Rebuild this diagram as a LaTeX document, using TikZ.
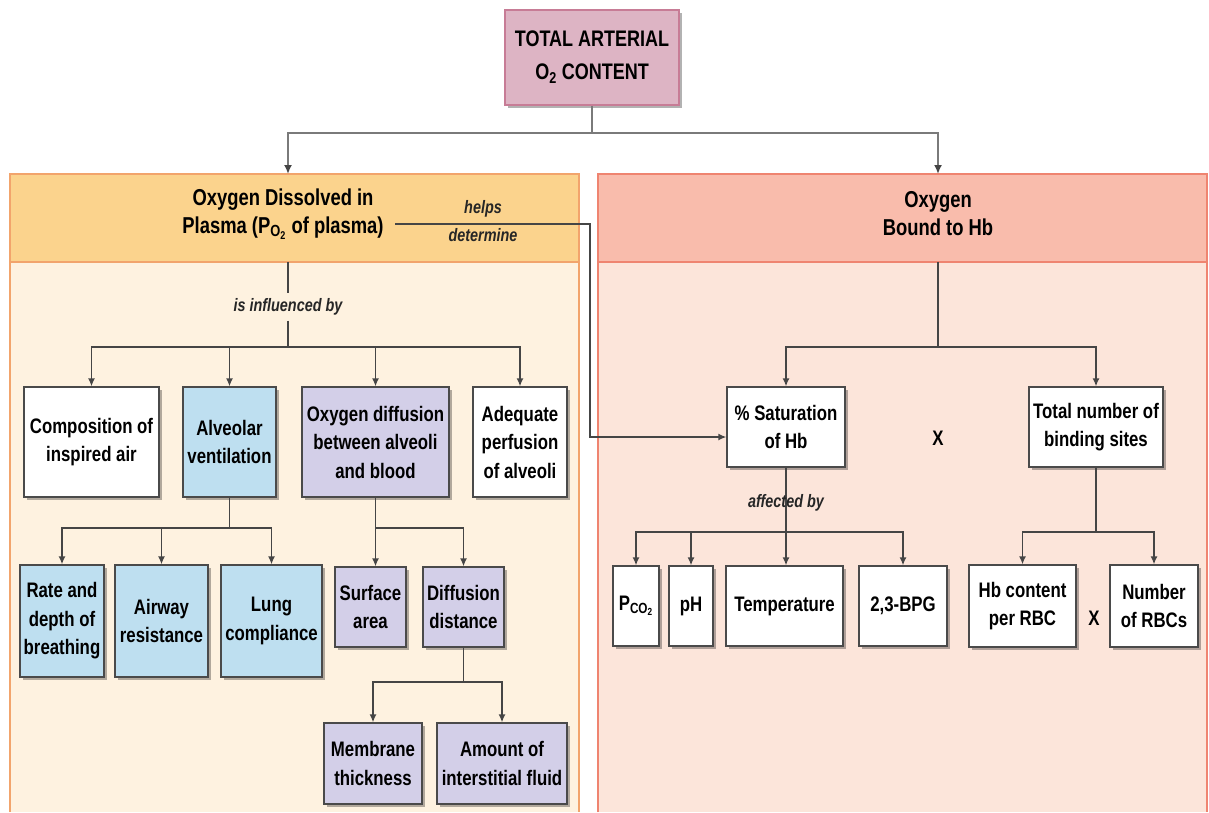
\documentclass[tikz,border=0pt]{standalone}
\usepackage{fontspec}
\setmainfont{Liberation Sans}[FakeStretch=0.8]
\usetikzlibrary{arrows.meta,shadows}
\definecolor{lineC}{HTML}{454545}
\definecolor{topLineC}{HTML}{7A7A7A}
\definecolor{boxC}{HTML}{4A4A4A}
\definecolor{topF}{HTML}{DDB4C4}
\definecolor{topB}{HTML}{C77C96}
\definecolor{lHeadF}{HTML}{FBD38D}
\definecolor{lBorder}{HTML}{F2A46C}
\definecolor{lBodyF}{HTML}{FEF2E0}
\definecolor{rHeadF}{HTML}{F9BCAC}
\definecolor{rBorder}{HTML}{EF8470}
\definecolor{rBodyF}{HTML}{FCE5DA}
\definecolor{blueF}{HTML}{BEDFF0}
\definecolor{lavF}{HTML}{D3CFE8}
\begin{document}
\begin{tikzpicture}[x=1pt,y=-1pt,
  line/.style={draw=lineC, line width=1.8pt},
  arr/.style={line, -{Latex[length=8pt,width=7pt]}},
  topline/.style={draw=topLineC, line width=2.4pt},
  toparr/.style={topline, -{Latex[length=9pt,width=8pt,color=lineC]}},
  box/.style={draw=boxC, line width=1.2pt, align=center, inner sep=1pt, fill=white,
    font=\fontsize{21}{28.5}\selectfont\bfseries,
    drop shadow={shadow xshift=2.5pt, shadow yshift=-2.5pt, opacity=0.3, fill=black}},
  lab/.style={font=\fontsize{18}{28}\selectfont\bfseries\itshape, inner xsep=1pt, inner ysep=5pt, text=black!85},
  title/.style={font=\fontsize{23}{28}\selectfont\bfseries, align=center},
  band/.style={minimum height=88pt, anchor=north west, inner sep=0pt, outer sep=0pt, line width=2pt},
]
\useasboundingbox[fill=white] (0,0) rectangle (1209,812);

% panels
\fill[lBodyF] (10,174) rectangle (579,812);
\fill[rBodyF] (598,174) rectangle (1207,812);
\draw[lBorder, line width=1.2pt] (10,812) -- (10,174) -- (579,174) -- (579,812);
\draw[rBorder, line width=1.2pt] (598,812) -- (598,174) -- (1207,174) -- (1207,812);
\node[band, fill=lHeadF, draw=lBorder, minimum width=569pt] (lhd) at (10,174) {};
\node[band, fill=rHeadF, draw=rBorder, minimum width=609pt] (rhd) at (598,174) {};

% top box
\node[box, fill=topF, draw=topB, minimum width=174pt, minimum height=95pt,
      font=\fontsize{22.5}{33}\selectfont\bfseries] (top) at (592,57.5) {TOTAL ARTERIAL\\O\textsubscript{2} CONTENT};

% titles
\node[title] (ltitle) at (283,214) {Oxygen Dissolved in\\Plasma (P\textsubscript{O\textsubscript{2}} of plasma)};
\node[title] (rtitle) at (938,214) {Oxygen\\Bound to Hb};
\node[lab, align=center, inner ysep=1pt] (helps) at (483,221) {helps\\determine};

% top connectors
\coordinate (t1) at (592,133);
\coordinate (la) at (288,174);
\coordinate (ra) at (938,174);
\draw[topline] (top) -- (t1);
\draw[toparr] (t1) -| (la);
\draw[toparr] (t1) -| (ra);

% left panel
\node[lab] (infl) at (288,307) {is influenced by};
\node[box, minimum width=135pt, minimum height=110pt] (comp) at (91.5,442) {Composition of\\inspired air};
\node[box, fill=blueF, minimum width=93pt, minimum height=110pt] (alv) at (229.5,442) {Alveolar\\ventilation};
\node[box, fill=lavF, minimum width=147pt, minimum height=110pt] (oxd) at (375.5,442) {Oxygen diffusion\\between alveoli\\and blood};
\node[box, minimum width=94pt, minimum height=110pt] (adq) at (520,442) {Adequate\\perfusion\\of alveoli};

\node[box, fill=blueF, minimum width=84pt, minimum height=112pt] (rate) at (62,621) {Rate and\\depth of\\breathing};
\node[box, fill=blueF, minimum width=93pt, minimum height=112pt] (airw) at (161.5,621) {Airway\\resistance};
\node[box, fill=blueF, minimum width=101pt, minimum height=112pt] (lung) at (271.5,621) {Lung\\compliance};
\node[box, fill=lavF, minimum width=71pt, minimum height=80pt] (surf) at (370.5,607) {Surface\\area};
\node[box, fill=lavF, minimum width=81pt, minimum height=80pt] (diff) at (463.5,607) {Diffusion\\distance};
\node[box, fill=lavF, minimum width=98pt, minimum height=81pt] (memb) at (373,763.5) {Membrane\\thickness};
\node[box, fill=lavF, minimum width=130pt, minimum height=81pt] (amt) at (502,763.5) {Amount of\\interstitial fluid};

\coordinate (j0) at (288,347);
\draw[line] (lhd.south -| infl) -- (infl);
\draw[line] (infl) -- (j0);
\draw[arr] (j0) -| (comp);
\draw[arr] (j0) -| (alv);
\draw[arr] (j0) -| (oxd);
\draw[arr] (j0) -| (adq);

\coordinate (j1) at (229.5,528);
\draw[line] (alv) -- (j1);
\draw[arr] (j1) -| (rate);
\draw[arr] (j1) -| (airw);
\draw[arr] (j1) -| (lung);

\coordinate (j2) at (375.5,528);
\draw[line] (oxd) -- (j2);
\draw[arr] (j2) -- (j2 |- surf.north);
\draw[arr] (j2) -| (diff);

\coordinate (j3) at (463.5,682);
\draw[line] (diff) -- (j3);
\draw[arr] (j3) -| (memb);
\draw[arr] (j3) -| (amt);

% right panel
\node[box, minimum width=118pt, minimum height=80pt] (sat) at (786,427) {\% Saturation\\of Hb};
\node[box, minimum width=134pt, minimum height=80pt] (tot) at (1096,427) {Total number of\\binding sites};
\node[font=\fontsize{21}{28}\selectfont\bfseries] (x1) at (938,438) {X};

\node[box, minimum width=46pt, minimum height=80pt] (pco) at (636,606) {P\textsubscript{CO\textsubscript{2}}};
\node[box, minimum width=44pt, minimum height=80pt] (ph) at (691,606) {pH};
\node[box, minimum width=117pt, minimum height=80pt] (temp) at (784.5,606) {Temperature};
\node[box, minimum width=88pt, minimum height=80pt] (bpg) at (903,606) {2,3-BPG};
\node[box, minimum width=107pt, minimum height=82pt] (hbc) at (1022.5,606) {Hb content\\per RBC};
\node[box, minimum width=88pt, minimum height=82pt] (nrbc) at (1154,606) {Number\\of RBCs};
\node[font=\fontsize{21}{28}\selectfont\bfseries] (x2) at (1094,618) {X};

\coordinate (j4) at (938,347);
\draw[line] (rhd.south -| j4) -- (j4);
\draw[arr] (j4) -| (sat);
\draw[arr] (j4) -| (tot);

\coordinate (j5) at (786,532);
\draw[arr] (sat.south) -- (sat.south |- temp.north);
\draw[arr] (j5) -| (pco);
\draw[arr] (j5) -| (ph);
\draw[arr] (j5) -| (bpg);
\node[lab] (aff) at (786,503) {affected by};

\coordinate (j6) at (1096,532);
\draw[line] (tot) -- (j6);
\draw[arr] (j6) -| (hbc);
\draw[arr] (j6) -| (nrbc);

% helps determine connector
\coordinate (h0) at (395,224);
\coordinate (h1) at (590,224);
\draw[arr] (h0) -- (h1) |- ([yshift=-10pt]sat.west);
\end{tikzpicture}
\end{document}
